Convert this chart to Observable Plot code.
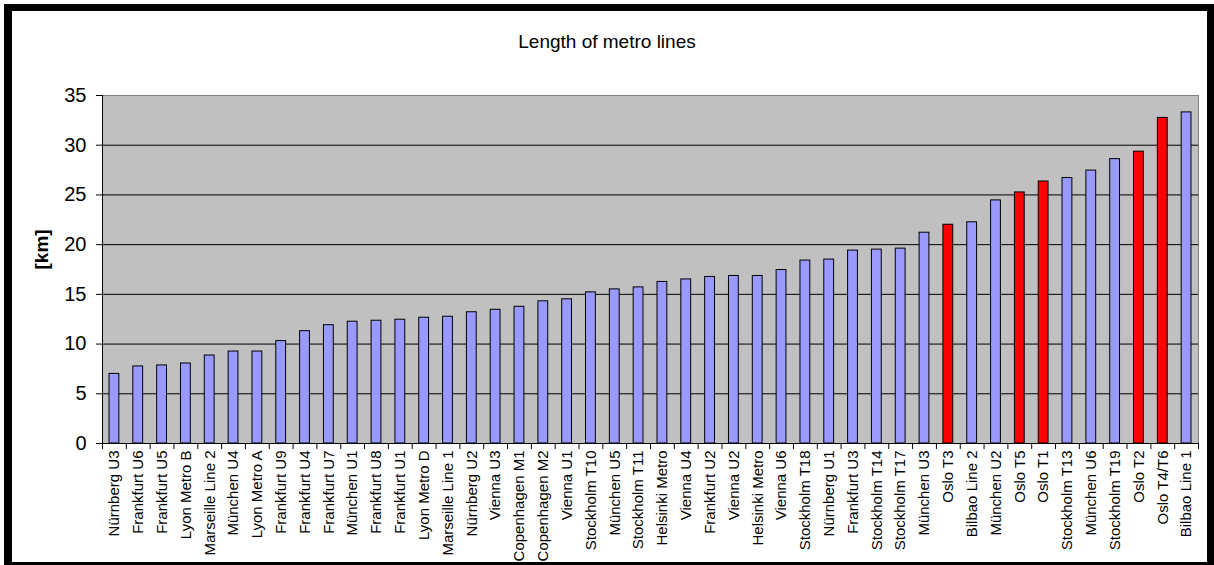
<!DOCTYPE html>
<html><head><meta charset="utf-8">
<script src="https://cdn.jsdelivr.net/npm/d3@7"></script>
<script src="https://cdn.jsdelivr.net/npm/@observablehq/plot@0.6"></script>
<style>
body{margin:0;background:#fff;font-family:"Liberation Sans",Arial,sans-serif;}
#wrap{position:relative;width:1214px;height:565px;overflow:hidden;background:#fff;}
#frame{position:absolute;left:4px;top:4px;right:0;bottom:0;border-style:solid;border-color:#000;border-width:7px 7px 3px 8px;box-sizing:border-box;}
#title{position:absolute;left:0;width:1214px;top:31px;text-align:center;font-size:19px;color:#000;}
#chart{position:absolute;left:0;top:0;}
</style></head><body>
<div id="wrap"><div id="frame"></div><div id="title">Length of metro lines</div><div id="chart"></div></div>
<script>
const lines = ["Nürnberg U3","Frankfurt U6","Frankfurt U5","Lyon Metro B","Marseille Line 2","München U4","Lyon Metro A","Frankfurt U9","Frankfurt U4","Frankfurt U7","München U1","Frankfurt U8","Frankfurt U1","Lyon Metro D","Marseille Line 1","Nürnberg U2","Vienna U3","Copenhagen M1","Copenhagen M2","Vienna U1","Stockholm T10","München U5","Stockholm T11","Helsinki Metro","Vienna U4","Frankfurt U2","Vienna U2","Helsinki Metro","Vienna U6","Stockholm T18","Nürnberg U1","Frankfurt U3","Stockholm T14","Stockholm T17","München U3","Oslo T3","Bilbao Line 2","München U2","Oslo T5","Oslo T1","Stockholm T13","München U6","Stockholm T19","Oslo T2","Oslo T4/T6","Bilbao Line 1"];
const lengths = [7.0,7.75,7.85,8.05,8.85,9.25,9.25,10.3,11.3,11.9,12.25,12.35,12.45,12.65,12.75,13.2,13.45,13.75,14.3,14.5,15.2,15.5,15.7,16.25,16.5,16.75,16.85,16.85,17.45,18.4,18.5,19.4,19.5,19.6,21.2,22.0,22.25,24.45,25.25,26.35,26.7,27.45,28.6,29.35,32.75,33.3];
const highlighted = ["Oslo T3","Oslo T5","Oslo T1","Oslo T2","Oslo T4/T6"];
const yTicks = [0,5,10,15,20,25,30,35];
const yLabel = "[km]";

const data = lines.map((name, i) => ({i, name, km: lengths[i], oslo: highlighted.includes(name)}));

const chart = Plot.plot({
  width: 1214, height: 565,
  marginLeft: 102, marginRight: 16, marginTop: 95, marginBottom: 122,
  style: {fontFamily: "'Liberation Sans', Arial, sans-serif", background: "transparent", color: "#000", overflow: "visible"},
  x: {type: "linear", domain: [0, lines.length]},
  y: {domain: [0, 35]},
  color: {domain: [false, true], range: ["#9999ff", "#ff0000"]},
  marks: [
    Plot.frame({fill: "#c0c0c0", stroke: "#808080"}),
    Plot.gridY(yTicks.filter(v => v > 0 && v < 35), {stroke: "#000", strokeOpacity: 1}),
    Plot.rect(data, {x1: "i", x2: d => d.i + 1, y1: 0, y2: "km", insetLeft: 7, insetRight: 7, fill: "oslo", stroke: "#000", strokeWidth: 1}),
    Plot.ruleX([0], {stroke: "#000"}),
    Plot.ruleY([0], {stroke: "#000"}),
    Plot.axisY({ticks: yTicks, tickSize: 6, tickPadding: 10, fontSize: 20, label: null}),
    Plot.text([yLabel], {frameAnchor: "left", rotate: -90, dx: -61, fontSize: 19, fontWeight: "bold"}),
    Plot.axisX({ticks: d3.range(0, lines.length + 1), tickSize: 6, tickFormat: () => "", label: null}),
    Plot.axisX({ticks: data.map(d => d.i + 0.5), tickSize: 0, tickPadding: 7, tickRotate: -90, fontSize: 15, tickFormat: v => lines[Math.floor(v)], label: null})
  ]
});
document.getElementById("chart").appendChild(chart);
</script>
</body></html>
